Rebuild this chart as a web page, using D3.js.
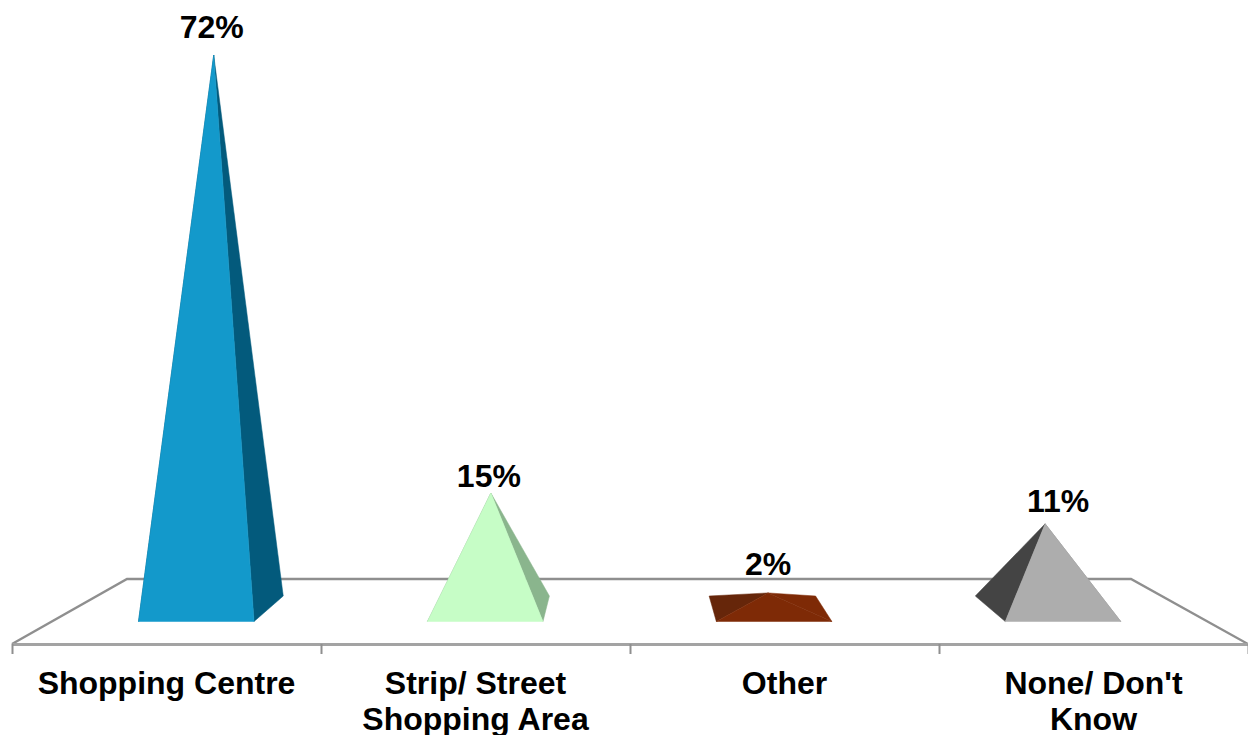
<!DOCTYPE html>
<html>
<head>
<meta charset="utf-8">
<script src="https://cdn.jsdelivr.net/npm/d3@7"></script>
<style>
html,body{margin:0;padding:0;background:#fff;overflow:hidden}
svg{display:block}
text{font-family:"Liberation Sans",Arial,sans-serif;font-weight:700;fill:#000;font-size:32px}
</style>
</head>
<body>
<svg id="chart" width="1248" height="735"></svg>
<script>
// Data
const categories = ["Shopping Centre", "Strip/ Street|Shopping Area", "Other", "None/ Don't|Know"];
const values = [72, 15, 2, 11];
const valueLabels = ["72%", "15%", "2%", "11%"];
// Styles
const frontColors = ["#1399cb", "#c6fdc6", "#7e2a06", "#adadad"];
const leftColors  = ["#035a7c", "#8ab58d", "#66260a", "#444444"];
const rightColors = ["#035a7c", "#8ab58d", "#7e2a06", "#8a8a8a"];
const labelNudgeX = [-2, -2, 0, 13];
const labelNudgeY = [-17, -6, -18, -12];

const svg = d3.select("#chart");

// Floor projection: screen y of a floor depth -> left & right x of the floor
const floorFrontY = 644, floorBackY = 579;
const floorLeft  = d3.scaleLinear().domain([floorFrontY, floorBackY]).range([12, 127]);
const floorRight = d3.scaleLinear().domain([floorFrontY, floorBackY]).range([1248, 1131]);
const baseFrontY = 621.5, baseMidY = 608.3, baseBackY = 596;

// x position within the band at a given floor depth
const bandIndex = d3.scaleBand().domain(d3.range(categories.length)).range([0, 1]);
const xAt = (i, y, offset = 0) => {
  const s = d3.scaleLinear().domain([0, 1]).range([floorLeft(y), floorRight(y)]);
  return s(bandIndex(i) + bandIndex.bandwidth() * (0.5 + offset));
};

const y = d3.scaleLinear().domain([0, 72]).range([baseMidY, 55]);
const halfWidth = 0.2;

// Floor
svg.append("path")
  .attr("d", d3.line()([
    [floorLeft(floorFrontY), floorFrontY],
    [floorLeft(floorBackY), floorBackY],
    [floorRight(floorBackY), floorBackY],
    [floorRight(floorFrontY), floorFrontY]
  ]))
  .attr("fill", "none").attr("stroke", "#8f8f8f").attr("stroke-width", 2.4);

// Axis with ticks on band boundaries
const xLinear = d3.scaleLinear().domain([0, categories.length]).range([12, 1248]);
const axis = svg.append("g").attr("transform", `translate(0,${floorFrontY})`)
  .call(d3.axisBottom(xLinear).tickValues(d3.range(categories.length + 1)).tickFormat("").tickSizeOuter(0).tickSizeInner(10));
axis.select(".domain").attr("stroke", "#a3a3a3").attr("stroke-width", 3);
axis.selectAll(".tick line").attr("stroke", "#8f8f8f").attr("stroke-width", 2);

// Pyramids
const line = d3.line();
const face = (sel, pts, color) => sel.append("path")
  .attr("d", line(pts) + "Z")
  .attr("fill", color)
  .attr("stroke", color)
  .attr("stroke-width", 0.5)
  .attr("stroke-linejoin", "round");

const g = svg.selectAll("g.pyr").data(values).join("g").attr("class", "pyr");
g.each(function (v, i) {
  const sel = d3.select(this);
  const apex = [xAt(i, baseMidY), y(v)];
  const fl = [xAt(i, baseFrontY, -halfWidth), baseFrontY];
  const fr = [xAt(i, baseFrontY, halfWidth), baseFrontY];
  const bl = [xAt(i, baseBackY, -halfWidth), baseBackY];
  const br = [xAt(i, baseBackY, halfWidth), baseBackY];
  face(sel, [fl, bl, apex], leftColors[i]);
  face(sel, [fr, br, apex], rightColors[i]);
  face(sel, [fl, fr, apex], frontColors[i]);
  sel.append("text")
    .attr("x", apex[0] + labelNudgeX[i])
    .attr("y", apex[1] + labelNudgeY[i])
    .attr("text-anchor", "middle")
    .text(valueLabels[i]);
});

// Category labels
const xBand = d3.scaleBand().domain(categories).range([12, 1248]);
const cat = svg.selectAll("text.cat").data(categories).join("text")
  .attr("class", "cat")
  .attr("text-anchor", "middle")
  .attr("transform", d => `translate(${xBand(d) + xBand.bandwidth() / 2},694)`);
cat.selectAll("tspan").data(d => d.split("|")).join("tspan")
  .attr("x", 0)
  .attr("y", (d, i) => i * 36)
  .text(d => d);
</script>
</body>
</html>
